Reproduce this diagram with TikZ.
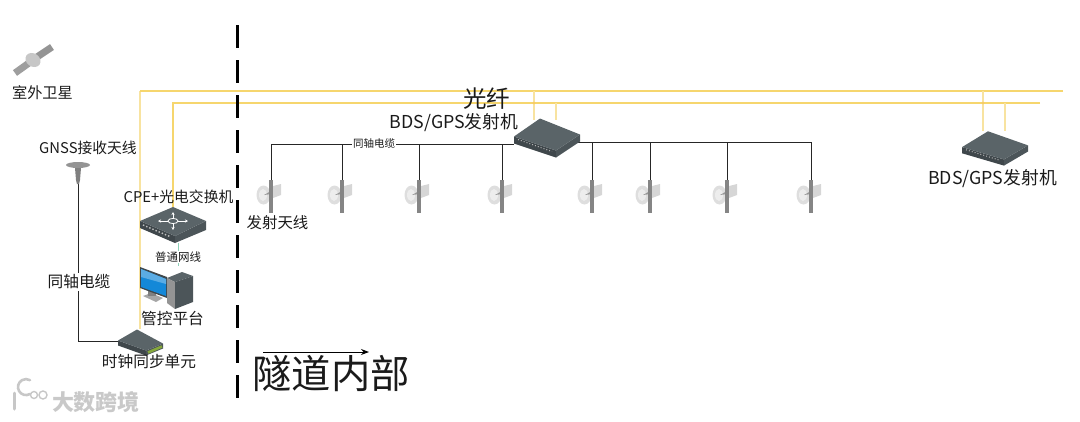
\documentclass[tikz,border=0pt]{standalone}
\usepackage{fontspec}
\usepackage{xcolor}
\usetikzlibrary{arrows.meta}
\usetikzlibrary{positioning}
\setmainfont{Noto Sans CJK SC}
\definecolor{fiberyellow}{HTML}{F6D66E}
\definecolor{tapyellow}{HTML}{F8E3A0}
\definecolor{boxtop}{HTML}{5A6468}
\definecolor{boxleft}{HTML}{3F474B}
\definecolor{boxright}{HTML}{4C5559}
\definecolor{netgreen}{HTML}{8FD0B8}
\definecolor{screenblue}{HTML}{1488D8}
\definecolor{portgreen}{HTML}{86A83C}
\definecolor{inktext}{HTML}{1A1A1A}
\tikzset{
    fiber/.style={fiberyellow, line width=1.3pt},
    fibertap/.style={tapyellow, line width=1.5pt},
    coax/.style={black!85, line width=1pt},
    device/.style={inner sep=0pt, outer sep=0pt, minimum width=#1, minimum height=24pt},
    mast/.style={inner sep=0pt, outer sep=0pt, minimum width=4pt, minimum height=34pt},
    labtext/.style={inner sep=0pt, text=inktext, font=\fontsize{14.8}{16}\selectfont},
    labsmall/.style={labtext, font=\fontsize{11.5}{13}\selectfont},
    labmid/.style={labtext, font=\fontsize{15.7}{18}\selectfont},
    labbig/.style={labtext, font=\fontsize{17.8}{20}\selectfont},
    pics/txbox/.style={code={
        \fill[boxleft] (-33,-1) -- (9,13) -- (9,20) -- (-33,6) -- cycle;
        \fill[boxright] (9,13) -- (33,-3) -- (33,4) -- (9,20) -- cycle;
        \fill[boxtop] (-33,-1) -- (-7,-19) -- (33,-3) -- (9,13) -- cycle;
        \draw[white!70!black, dotted, line width=1pt] (-29,2) -- (5,14);
    }},
    pics/switchbox/.style={code={
        \fill[boxleft] (-33,-4) -- (2,11) -- (2,18) -- (-33,3) -- cycle;
        \fill[boxright] (2,11) -- (33,-4) -- (33,5) -- (2,18) -- cycle;
        \fill[boxtop] (-33,-4) -- (0,-18) -- (33,-4) -- (2,11) -- cycle;
        \draw[white!75!black, dotted, line width=1.4pt] (-30,0) -- (-2,12);
        \draw[white, line width=1pt, -{Stealth[length=3pt, width=3pt]}] (-5,-4) -- (-15,-4);
        \draw[white, line width=1pt, -{Stealth[length=3pt, width=3pt]}] (5,-4) -- (15,-4);
        \draw[white, line width=1pt, -{Stealth[length=3pt, width=3pt]}] (0,-7) -- (0,-13);
        \draw[white, line width=1pt, -{Stealth[length=3pt, width=3pt]}] (0,-1) -- (0,5);
        \draw[white, line width=.8pt] (0,-4) circle [x radius=5, y radius=2.6];
    }},
    pics/syncbox/.style={code={
        \fill[boxleft] (-22,-1) -- (6,9) -- (6,14) -- (-22,4) -- cycle;
        \fill[boxright] (6,9) -- (23,2) -- (23,7) -- (6,14) -- cycle;
        \fill[boxtop] (-22,-1) -- (-3,-12) -- (23,2) -- (6,9) -- cycle;
        \draw[portgreen, line width=2.6pt] (8,11) -- (22,5);
    }},
    pics/pcset/.style={code={
        \fill[black!35] (-35,8) -- (-27,5) -- (-15,10) -- (-22,14) -- cycle;
        \fill[black!50] (-30,0) rectangle (-22,8);
        \fill[boxleft] (-38,-21) -- (-11,-11) -- (-11,10) -- (-38,0) -- cycle;
        \fill[screenblue] (-37,-19) -- (-12,-9) -- (-12,8) -- (-37,-1) -- cycle;
        \fill[screenblue!70!white] (-37,-19) -- (-12,-9) -- (-12,-4) -- (-37,-11) -- cycle;
        \fill[boxtop] (-11,-10) -- (4,-16) -- (15,-12) -- (-3,-6) -- cycle;
        \fill[black!42] (-11,-10) -- (-3,-6) -- (-3,21) -- (-11,15) -- cycle;
        \fill[boxright] (-3,-6) -- (15,-12) -- (15,14) -- (-3,21) -- cycle;
    }},
    pics/dishant/.style={code={
        \fill[black!16] (2,-11) -- (10,-13) -- (10,-2) -- (2,1) -- cycle;
        \fill[black!13] (-7.5,-2) circle [x radius=7, y radius=9.5];
        \fill[black!7] (-8,-2) circle [x radius=4, y radius=6];
        \fill[black!40] (-7,-2) -- (0,-6) -- (0,-3) -- cycle;
        \fill[black!48] (-1.8,-17) rectangle (1.8,16);
    }},
    pics/gnssant/.style={code={
        \fill[black!50] (-3,-6) -- (3,-6) -- (2,6) -- (1,10) -- (-1,10) -- (-2,6) -- cycle;
        \fill[black!42] (0,-9) circle [x radius=12, y radius=3];
    }},
    pics/satellite/.style={code={
        \draw[black!38, line width=7pt] (-18,13) -- (-4,3);
        \draw[black!42, line width=7pt] (4,-3) -- (19,-13);
        \fill[black!22, rotate=-35] (0,0) circle [x radius=8, y radius=6.5];
    }},
}
\begin{document}
\begin{tikzpicture}[x=1pt, y=-1pt, on grid]
    \useasboundingbox (0,0) rectangle (1080,421);
    % devices
    \node[device=66pt, minimum height=39pt] (txa) at (547,137.5) {};
    \node[device=66pt, minimum height=34pt] (txb) at (995,148) {};
    \node[device=66pt, minimum height=36pt] (switch) at (173,225) {};
    \node[device=30pt, minimum height=44pt] (pc) at (178,288) {};
    \node[device=45pt, minimum height=25pt] (sync) at (140,341.5) {};
    \node[device=24pt, minimum height=20pt] (gnss) at (78,174) {};
    \node[device=40pt, minimum height=26pt] (sat) at (33,60) {};
    % antennas
    \node[mast] (ant1) at (271,197) {};
    \node[mast, right=71pt of ant1] (ant2) {};
    \node[mast, right=77pt of ant2] (ant3) {};
    \node[mast, right=83pt of ant3] (ant4) {};
    \node[mast, right=90pt of ant4] (ant5) {};
    \node[mast, right=58pt of ant5] (ant6) {};
    \node[mast, right=77pt of ant6] (ant7) {};
    \node[mast, right=84pt of ant7] (ant8) {};
    % free ends
    \coordinate (fibaleft) at (140,91);
    \coordinate (fibaright) at (1063,91);
    \coordinate (fibbleft) at (173,103);
    \coordinate (fibbright) at (1040,103);
    \coordinate (busleft) at (514,144);
    \coordinate (busright) at (577,142);
    \coordinate (bordertop) at (237,25);
    \coordinate (borderbot) at (237,398);
    \coordinate (arrowa) at (263,352);
    \coordinate (arrowb) at (369,352);
    % fibre
    \draw[fibertap, line width=2pt] (fibaleft) -- (sync.north);
    \draw[fiber] (fibaright) -- (fibaleft);
    \draw[fiber] (fibbright) -- (fibbleft) -- (switch.north);
    \draw[fibertap] (534,91) -- (534,120);
    \draw[fibertap] (556,103) -- (556,120);
    \draw[fibertap] (983,91) -- (983,131);
    \draw[fibertap] (1005,103) -- (1005,131);
    \fill[fiberyellow!85!orange] (534,103) circle (1.4);
    \fill[fiberyellow!85!orange] (983,103) circle (1.4);
    % coax
    \draw[coax] (busleft) -| (ant1.north);
    \draw[coax] (ant2.north |- busleft) -- (ant2.north);
    \draw[coax] (ant3.north |- busleft) -- (ant3.north);
    \draw[coax] (ant4.north |- busleft) -- (ant4.north);
    \draw[coax] (busright) -| (ant8.north);
    \draw[coax] (ant5.north |- busright) -- (ant5.north);
    \draw[coax] (ant6.north |- busright) -- (ant6.north);
    \draw[coax] (ant7.north |- busright) -- (ant7.north);
    \draw[coax] (gnss.south) |- (sync.west);
    \draw[netgreen, line width=1pt] (pc.north |- switch.south) -- (pc.north);
    % tunnel border
    \draw[black, line width=3pt, dash pattern=on 22.5pt off 12.5pt] (bordertop) -- (borderbot);
    \draw[black, line width=1pt, -{Stealth[length=8pt, width=6pt]}] (arrowa) -- (arrowb);
    % icons
    \pic at (txa) {txbox};
    \pic[yscale=.88] at (txb) {txbox};
    \pic at (switch) {switchbox};
    \pic at (pc) {pcset};
    \pic at (sync) {syncbox};
    \pic at (gnss) {gnssant};
    \pic at (sat) {satellite};
    \pic at (ant1) {dishant};
    \pic at (ant2) {dishant};
    \pic at (ant3) {dishant};
    \pic at (ant4) {dishant};
    \pic at (ant5) {dishant};
    \pic at (ant6) {dishant};
    \pic at (ant7) {dishant};
    \pic at (ant8) {dishant};
    % labels
    \node[labtext, font=\fontsize{15.2}{17}\selectfont] (satlab) at (42.5,92.5) {室外卫星};
    \node[labtext] (gnsslab) at (88,147.5) {GNSS接收天线};
    \node[labtext] (switchlab) at (178.5,196.5) {CPE+光电交换机};
    \node[labsmall, fill=white, inner ysep=1pt] (netlab) at (178,257) {普通网线};
    \node[labmid] (pclab) at (172.5,318.5) {管控平台};
    \node[labmid, fill=white, inner ysep=2pt] (coaxlab) at (79,282) {同轴电缆};
    \node[labmid] (synclab) at (149,361.5) {时钟同步单元};
    \node[labtext, font=\fontsize{15.4}{17}\selectfont] (antlab) at (277.5,222.5) {发射天线};
    \node[labsmall, fill=white, inner xsep=1pt, inner ysep=1pt, font=\fontsize{10.5}{12}\selectfont] (buslab) at (374,144) {同轴电缆};
    \node[labtext, font=\fontsize{23.5}{26}\selectfont] (fibrelab) at (486.5,99) {光纤};
    \node[labbig] (txalab) at (454,122.5) {BDS/GPS发射机};
    \node[labbig] (txblab) at (992.5,178.5) {BDS/GPS发射机};
    \node[labtext, font=\fontsize{39.3}{43}\selectfont] (tunnellab) at (331,374) {隧道内部};
    % mark
    \node[inner sep=0pt, text=black!21, font=\fontsize{22}{24}\selectfont\bfseries] (marklab) at (96,402) {大数跨境};
    \draw[black!22, line width=3pt, line cap=round] (14,393) -- (14,409);
    \draw[black!22, line width=2.6pt, line cap=round] (30,394) arc (60:300:8);
    \draw[black!22, line width=1.4pt] (34,395) circle (3.5);
    \draw[black!22, line width=1.4pt] (43,395) circle (4);
\end{tikzpicture}
\end{document}
